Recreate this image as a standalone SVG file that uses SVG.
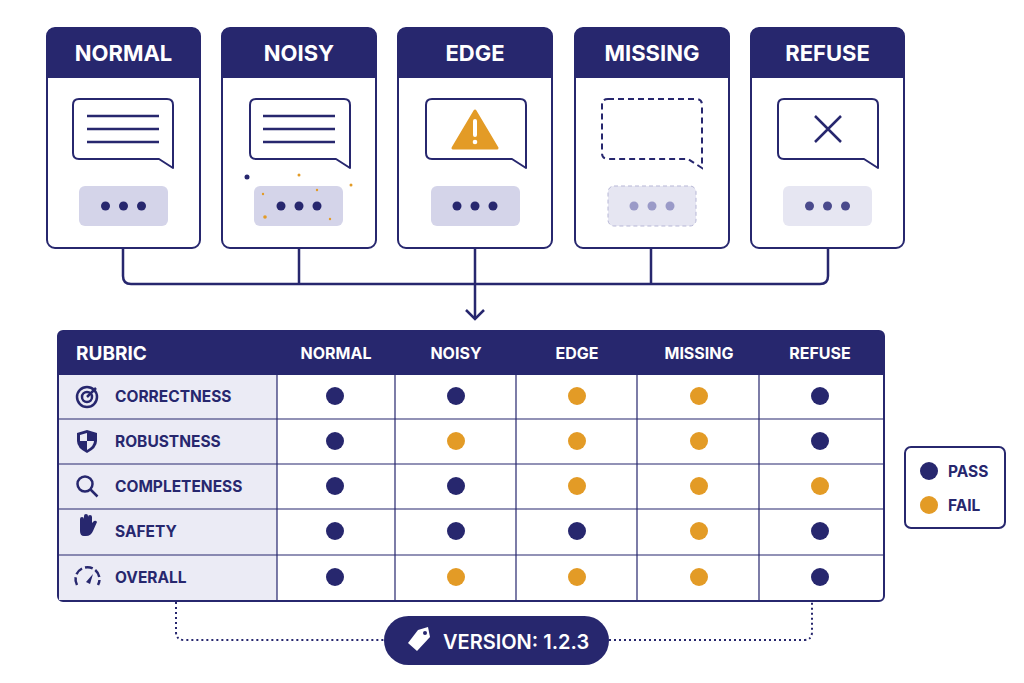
<svg xmlns="http://www.w3.org/2000/svg" width="1024" height="683" viewBox="0 0 1024 683">
<style>
.card{fill:#fff;stroke:#27276e;stroke-width:2}
.hd{fill:#27276e}
.ht{font-family:Inter,"Liberation Sans",sans-serif;font-weight:700;font-size:22px;fill:#fff;text-anchor:middle}
.bub{fill:#fff;stroke:#27276e;stroke-width:2;stroke-linejoin:round}
.ln{stroke:#27276e;stroke-width:2.5}
.pill{fill:#d4d4e9}
.dot{fill:#27276e}
.con{fill:none;stroke:#27276e;stroke-width:2.5}
.th{font-family:Inter,"Liberation Sans",sans-serif;font-weight:700;font-size:16px;fill:#fff;text-anchor:middle}
.rt{font-family:Inter,"Liberation Sans",sans-serif;font-weight:700;font-size:15.5px;fill:#27276e}
.grid{stroke:#27276e;stroke-width:1.2}
.p{fill:#27276e}.f{fill:#e39b26}
</style>
<defs>
<g id="dots"><circle cx="-18" cy="0" r="4.5"/><circle cx="0" cy="0" r="4.5"/><circle cx="18" cy="0" r="4.5"/></g>
</defs>
<g id="connectors">
<path class="con" d="M123 248V276q0 8 8 8H820q8 0 8-8V248M299 248V284M475 248V318M651 248V284"/>
<path class="con" d="M466 310l9 9 9-9"/>
<path d="M176 602V632q0 8 8 8H384M609 640H804q8 0 8-8V602" fill="none" stroke="#27276e" stroke-width="2" stroke-dasharray="2 3"/>
</g>
<g id="normal">
<rect class="card" x="47" y="28" width="153" height="220" rx="8"/>
<path class="hd" d="M47 36q0-8 8-8h137q8 0 8 8v42H47z"/>
<text class="ht" x="123.5" y="61">NORMAL</text>
<path class="bub" d="M79 99h88q6 0 6 6v63l-14-9H79q-6 0-6-6v-48q0-6 6-6z"/>
<path class="ln" d="M87 116h72M87 129h72M87 142h72"/>
<rect class="pill" x="79" y="186" width="89" height="40" rx="6"/>
<use href="#dots" x="123.5" y="206" class="dot"/>
</g>
<g id="noisy">
<rect class="card" x="222" y="28" width="154" height="220" rx="8"/>
<path class="hd" d="M222 36q0-8 8-8h138q8 0 8 8v42H222z"/>
<text class="ht" x="299" y="61">NOISY</text>
<path class="bub" d="M256 99h88q6 0 6 6v63l-14-9H256q-6 0-6-6v-48q0-6 6-6z"/>
<path class="ln" d="M263 116h72M263 129h72M263 142h72"/>
<rect class="pill" x="254" y="186" width="89" height="40" rx="6"/>
<use href="#dots" x="299" y="206" class="dot"/>
<circle cx="247" cy="177" r="2.5" fill="#27276e"/>
<g fill="#e39b26"><circle cx="299" cy="175" r="1.5"/><circle cx="351" cy="185" r="1.5"/><circle cx="265" cy="217" r="1.8"/><circle cx="317" cy="190" r="1.2"/><circle cx="330" cy="219" r="1.2"/><circle cx="263" cy="194" r="1.2"/></g>
</g>
<g id="edge">
<rect class="card" x="398" y="28" width="154" height="220" rx="8"/>
<path class="hd" d="M398 36q0-8 8-8h138q8 0 8 8v42H398z"/>
<text class="ht" x="475" y="61">EDGE</text>
<path class="bub" d="M432 99h88q6 0 6 6v63l-14-9H432q-6 0-6-6v-48q0-6 6-6z"/>
<path d="M475 111l-22 37h44z" fill="#e39b26" stroke="#e39b26" stroke-width="3" stroke-linejoin="round"/>
<path d="M475 121v14" stroke="#fff" stroke-width="4" stroke-linecap="round"/>
<circle cx="475" cy="142" r="2.3" fill="#fff"/>
<rect class="pill" x="431" y="186" width="89" height="40" rx="6"/>
<use href="#dots" x="475" y="206" class="dot"/>
</g>
<g id="missing">
<rect class="card" x="575" y="28" width="154" height="220" rx="8"/>
<path class="hd" d="M575 36q0-8 8-8h138q8 0 8 8v42H575z"/>
<text class="ht" x="652" y="61">MISSING</text>
<path d="M608 99h88q6 0 6 6v63l-14-9H608q-6 0-6-6v-48q0-6 6-6z" fill="none" stroke="#27276e" stroke-width="2" stroke-dasharray="6 4"/>
<rect x="608" y="186" width="88" height="40" rx="6" fill="#e6e6f2" stroke="#b7b7d6" stroke-dasharray="4 3"/>
<use href="#dots" x="652" y="206" fill="#9a9ac8"/>
</g>
<g id="refuse">
<rect class="card" x="751" y="28" width="153" height="220" rx="8"/>
<path class="hd" d="M751 36q0-8 8-8h137q8 0 8 8v42H751z"/>
<text class="ht" x="827.5" y="61">REFUSE</text>
<path class="bub" d="M784 99h88q6 0 6 6v63l-14-9H784q-6 0-6-6v-48q0-6 6-6z"/>
<path d="M815 116l26 26M841 116l-26 26" stroke="#27276e" stroke-width="2.5"/>
<rect x="783" y="186" width="89" height="40" rx="6" fill="#e6e6f2"/>
<use href="#dots" x="827.5" y="206" fill="#4a4a8c"/>
</g>
<g id="table">
<rect x="58" y="331" width="826" height="270" rx="5" fill="#fff" stroke="#27276e" stroke-width="2"/>
<rect x="59" y="375" width="218" height="225" fill="#ebebf5"/>
<path class="hd" d="M58 336q0-5 5-5h816q5 0 5 5v39H58z"/>
<text x="76" y="360" font-family="Inter,'Liberation Sans',sans-serif" font-weight="700" font-size="19" fill="#fff">RUBRIC</text>
<text class="th" x="336" y="359">NORMAL</text>
<text class="th" x="456" y="359">NOISY</text>
<text class="th" x="577" y="359">EDGE</text>
<text class="th" x="699" y="359">MISSING</text>
<text class="th" x="820" y="359">REFUSE</text>
<path class="grid" d="M58 419H884M58 464H884M58 509H884M58 555H884M277 375V601M395 375V601M516 375V601M637 375V601M759 375V601"/>
<text class="rt" x="115" y="402">CORRECTNESS</text>
<text class="rt" x="115" y="447">ROBUSTNESS</text>
<text class="rt" x="115" y="492">COMPLETENESS</text>
<text class="rt" x="115" y="537">SAFETY</text>
<text class="rt" x="115" y="583">OVERALL</text>
<g fill="none" stroke="#27276e" stroke-width="2.5">
<circle cx="87" cy="397" r="10"/><circle cx="87" cy="397" r="5"/><path d="M87 397l9-9"/>
<circle cx="85" cy="484" r="7.5"/><path d="M90.5 489.5l7 7"/>
<path d="M77 585a12 12 0 1 1 21 0" stroke-dasharray="8 3"/>
</g>
<path d="M86 582l7-8-3 10z" fill="#27276e"/>
<path d="M87 430l-10 3v8q0 7 10 12q10-5 10-12v-8z" fill="#27276e"/>
<path d="M87 433v8h-7v-6zM87 441h7q0 5-7 9z" fill="#ebebf5"/>
<path d="M80 528v-9q0-2 2-2t2 2v-3q0-2 2-2t2 2v1q0-2 2-2t2 2v6l2-2q2-1 3 1l-4 9q-2 5-7 5h-2q-4 0-4-5z" fill="#27276e"/>
<g>
<circle class="p" cx="335" cy="396" r="9"/><circle class="p" cx="456" cy="396" r="9"/><circle class="f" cx="577" cy="396" r="9"/><circle class="f" cx="699" cy="396" r="9"/><circle class="p" cx="820" cy="396" r="9"/>
<circle class="p" cx="335" cy="441" r="9"/><circle class="f" cx="456" cy="441" r="9"/><circle class="f" cx="577" cy="441" r="9"/><circle class="f" cx="699" cy="441" r="9"/><circle class="p" cx="820" cy="441" r="9"/>
<circle class="p" cx="335" cy="486" r="9"/><circle class="p" cx="456" cy="486" r="9"/><circle class="f" cx="577" cy="486" r="9"/><circle class="f" cx="699" cy="486" r="9"/><circle class="f" cx="820" cy="486" r="9"/>
<circle class="p" cx="335" cy="531" r="9"/><circle class="p" cx="456" cy="531" r="9"/><circle class="p" cx="577" cy="531" r="9"/><circle class="f" cx="699" cy="531" r="9"/><circle class="p" cx="820" cy="531" r="9"/>
<circle class="p" cx="335" cy="577" r="9"/><circle class="f" cx="456" cy="577" r="9"/><circle class="f" cx="577" cy="577" r="9"/><circle class="f" cx="699" cy="577" r="9"/><circle class="p" cx="820" cy="577" r="9"/>
</g>
</g>
<g id="legend">
<rect x="905" y="447" width="100" height="81" rx="6" fill="#fff" stroke="#27276e" stroke-width="2"/>
<circle class="p" cx="929" cy="471" r="9"/><circle class="f" cx="929" cy="505" r="9"/>
<text class="rt" x="948" y="477">PASS</text>
<text class="rt" x="948" y="511">FAIL</text>
</g>
<g id="version">
<rect x="384" y="616" width="225" height="49" rx="24.5" fill="#27276e"/>
<path d="M418 630l10-3 2 10-13 14-9-8z" fill="#fff"/>
<circle cx="425" cy="633" r="2" fill="#27276e"/>
<text x="443" y="649" font-family="Inter,'Liberation Sans',sans-serif" font-weight="600" font-size="20" fill="#fff">VERSION: 1.2.3</text>
</g>
</svg>
